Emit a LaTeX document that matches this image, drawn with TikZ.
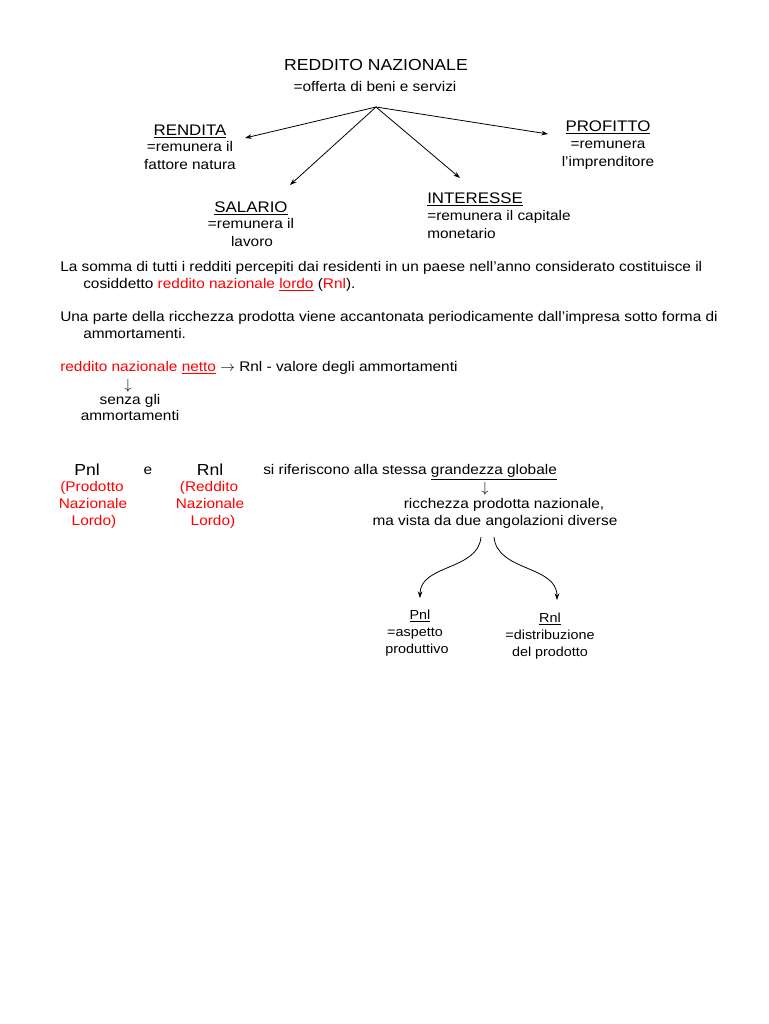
\documentclass[tikz,border=0pt]{standalone}
\usepackage{fontspec}
\setmainfont{Liberation Sans}[FakeStretch=1.1]
\usepackage{tikz}
\usetikzlibrary{arrows.meta}
\usetikzlibrary{calc}
\tikzstyle{txt} = [inner sep=0pt, font=\fontsize{10.5}{12}\selectfont]
\tikzstyle{head} = [inner sep=0pt, font=\fontsize{11.5}{13}\selectfont]
\tikzstyle{big} = [inner sep=0pt, font=\fontsize{12}{14}\selectfont]
\tikzstyle{small} = [inner sep=0pt, font=\fontsize{9.8}{12}\selectfont]
\tikzstyle{arrow} = [-{Stealth[length=5pt,width=3.5pt]}, line width=0.6pt]
\begin{document}
\begin{tikzpicture}[x=0.75pt, y=-0.75pt]
    \useasboundingbox (0,0) rectangle (768,1024);

    % draw reddito nazionale
    \node[big, anchor=base] (title) at (376,71) {REDDITO NAZIONALE};
    \node[txt, anchor=base] (offerta) at (375,91) {=offerta di beni e servizi};
    \coordinate (hub) at (376,107);

    \node[head, anchor=base] (rendita) at (190,135) {\underline{RENDITA}};
    \node[txt, anchor=base] (rendita1) at (190,151) {=remunera il};
    \node[txt, anchor=base] (rendita2) at (190,169) {fattore natura};

    \node[head, anchor=base] (salario) at (251,212) {\underline{SALARIO}};
    \node[txt, anchor=base] (salario1) at (251,228) {=remunera il};
    \node[txt, anchor=base] (salario2) at (252,246) {lavoro};

    \node[head, anchor=base west] (interesse) at (427,203) {\underline{INTERESSE}};
    \node[txt, anchor=base west] (interesse1) at (427,220) {=remunera il capitale};
    \node[txt, anchor=base west] (interesse2) at (427,238) {monetario};

    \node[head, anchor=base] (profitto) at (608,131) {\underline{PROFITTO}};
    \node[txt, anchor=base] (profitto1) at (608,148) {=remunera};
    \node[txt, anchor=base] (profitto2) at (608,166) {l’imprenditore};

    \coordinate (tipR) at (245,138);
    \coordinate (tipS) at (290,185);
    \coordinate (tipI) at (460,178);
    \coordinate (tipP) at (548,134);
    \draw[arrow] (hub) -- (tipR);
    \draw[arrow] (hub) -- (tipS);
    \draw[arrow] (hub) -- (tipI);
    \draw[arrow] (hub) -- (tipP);

    % draw paragraphs
    \node[txt, anchor=base west] (par1) at (60,271) {La somma di tutti i redditi percepiti dai residenti in un paese nell’anno considerato costituisce il};
    \node[txt, anchor=base west] (par1b) at (83,288) {cosiddetto \textcolor{red}{reddito nazionale \underline{lordo}} (\textcolor{red}{Rnl}).};
    \node[txt, anchor=base west] (par2) at (60,321) {Una parte della ricchezza prodotta viene accantonata periodicamente dall’impresa sotto forma di};
    \node[txt, anchor=base west] (par2b) at (83,338) {ammortamenti.};

    % draw netto
    \node[txt, anchor=base west] (netto) at (60,371) {\textcolor{red}{reddito nazionale \underline{netto}} $\rightarrow$ Rnl - valore degli ammortamenti};
    \node[txt, anchor=base] (down1) at (128,389) {$\downarrow$};
    \node[txt, anchor=base] (senza1) at (130,404) {senza gli};
    \node[txt, anchor=base] (senza2) at (130,420) {ammortamenti};

    % draw Pnl e Rnl
    \node[big, anchor=base] (pnl) at (87,475) {Pnl};
    \node[txt, anchor=base] (e) at (148,474) {e};
    \node[big, anchor=base] (rnl) at (210,475) {Rnl};
    \node[txt, anchor=base, red] (pnl1) at (92,491) {(Prodotto};
    \node[txt, anchor=base, red] (pnl2) at (93,508) {Nazionale};
    \node[txt, anchor=base, red] (pnl3) at (94,525) {Lordo)};
    \node[txt, anchor=base, red] (rnl1) at (209,491) {(Reddito};
    \node[txt, anchor=base, red] (rnl2) at (210,508) {Nazionale};
    \node[txt, anchor=base, red] (rnl3) at (213,525) {Lordo)};

    \node[txt, anchor=base west] (stessa) at (263,474) {si riferiscono alla stessa \underline{grandezza globale}};
    \node[txt, anchor=base] (down2) at (485,492) {$\downarrow$};
    \node[txt, anchor=base] (ricchezza) at (504,508) {ricchezza prodotta nazionale,};
    \node[txt, anchor=base] (vista) at (495,525) {ma vista da due angolazioni diverse};

    % draw two sides
    \coordinate (startL) at (481,537);
    \coordinate (startR) at (494,537);
    \coordinate (tipL) at (420,598);
    \coordinate (tipRn) at (557,600);
    \draw[arrow] (startL) to[out=-95, in=90] (tipL);
    \draw[arrow] (startR) to[out=-85, in=90] (tipRn);

    \node[small, anchor=base] (pnlB) at (420,619) {\underline{Pnl}};
    \node[small, anchor=base] (aspetto1) at (415,636) {=aspetto};
    \node[small, anchor=base] (aspetto2) at (417,653) {produttivo};
    \node[small, anchor=base] (rnlB) at (550,622) {\underline{Rnl}};
    \node[small, anchor=base] (distr1) at (550,639) {=distribuzione};
    \node[small, anchor=base] (distr2) at (550,656) {del prodotto};

\end{tikzpicture}
\end{document}
